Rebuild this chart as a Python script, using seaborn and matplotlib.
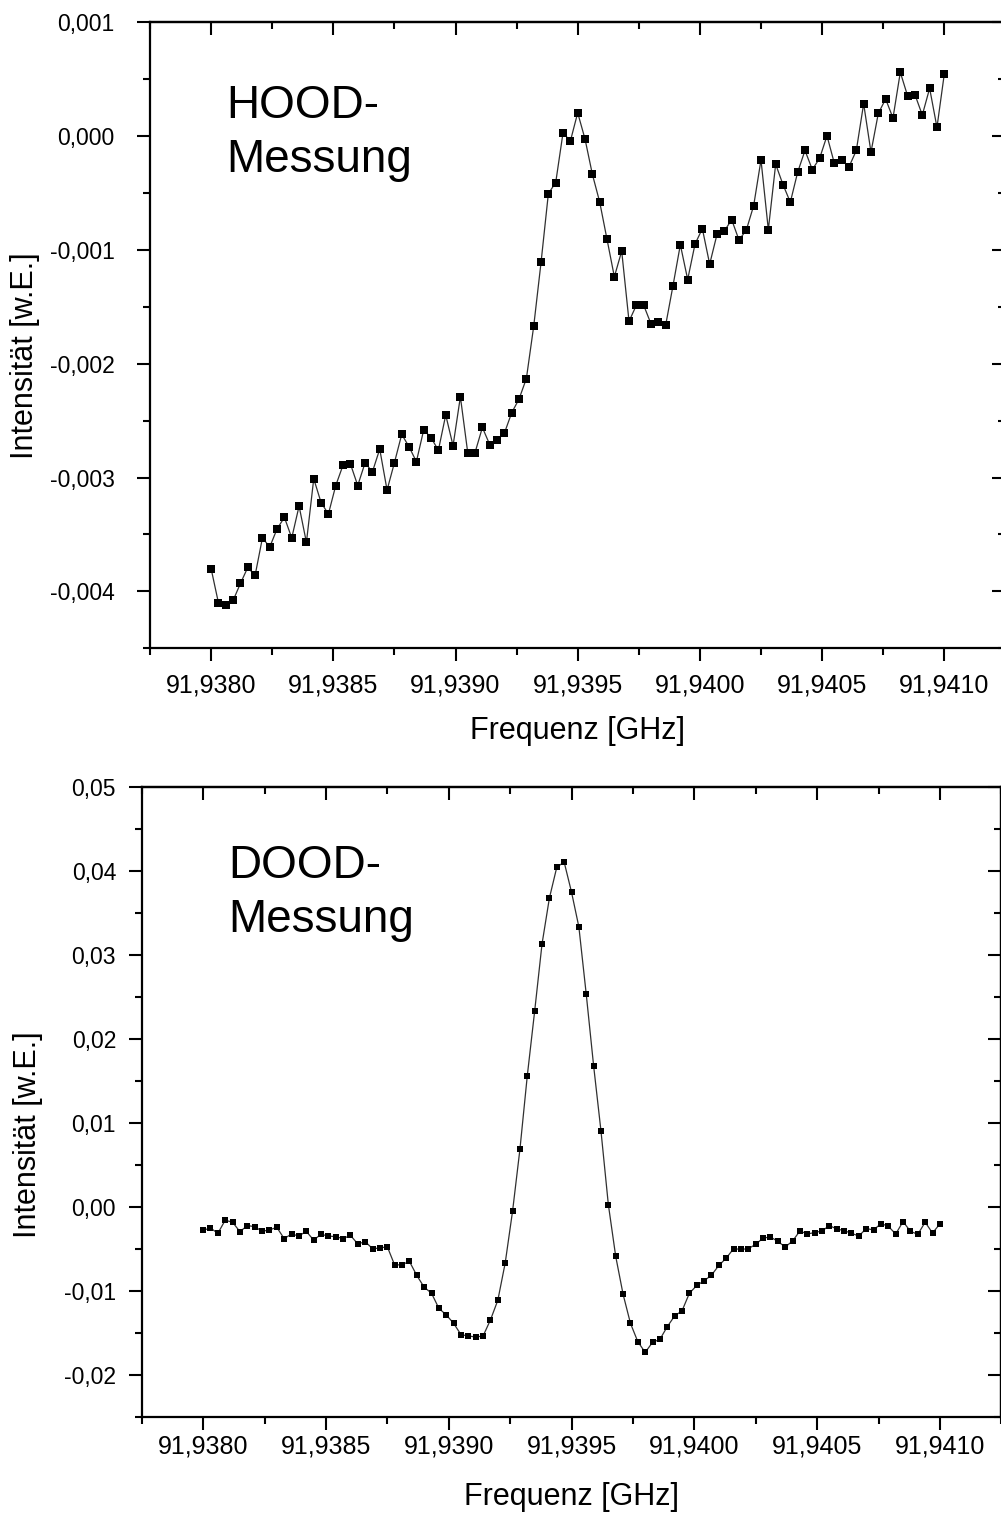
import numpy as np
import matplotlib
matplotlib.use("Agg")
import matplotlib.pyplot as plt
import seaborn as sns
from matplotlib.ticker import FixedLocator, FixedFormatter

# ---------------- data ----------------
freq = np.linspace(91.9380, 91.9410, 101)  # GHz, 30 kHz steps

hood = [
    -0.00380, -0.00410, -0.00412, -0.00408, -0.00393, -0.00379, -0.00386, -0.00353, -0.00361, -0.00345,
    -0.00335, -0.00353, -0.00325, -0.00357, -0.00301, -0.00322, -0.00332, -0.00307, -0.00289, -0.00288,
    -0.00307, -0.00287, -0.00295, -0.00275, -0.00311, -0.00287, -0.00262, -0.00273, -0.00286, -0.00258,
    -0.00265, -0.00276, -0.00245, -0.00272, -0.00229, -0.00278, -0.00278, -0.00256, -0.00271, -0.00267,
    -0.00261, -0.00243, -0.00231, -0.00213, -0.00167, -0.00111, -0.000505, -0.000408, 0.000030, -0.000044,
    0.000205, -0.000026, -0.000335, -0.000579, -0.000907, -0.001236, -0.00101, -0.001627, -0.001486, -0.001486,
    -0.00165, -0.001636, -0.00166, -0.001313, -0.000954, -0.00126, -0.000949, -0.000813, -0.001125, -0.000863,
    -0.000834, -0.000734, -0.000913, -0.000825, -0.000611, -0.000209, -0.000822, -0.000247, -0.000426, -0.000581,
    -0.000317, -0.000126, -0.000294, -0.000194, 0.000003, -0.000238, -0.000209, -0.000270, -0.000126, 0.000285,
    -0.000141, 0.000200, 0.000326, 0.000159, 0.000561, 0.000352, 0.000364, 0.000185, 0.000420, 0.000077,
    0.000546,
]

dood = [
    -0.00281, -0.00253, -0.00317, -0.00161, -0.00185, -0.00297, -0.00225, -0.00237, -0.00293, -0.00277,
    -0.00245, -0.00380, -0.00325, -0.00349, -0.00293, -0.00397, -0.00329, -0.00349, -0.00357, -0.00380,
    -0.00341, -0.00444, -0.00416, -0.00500, -0.00492, -0.00476, -0.00695, -0.00690, -0.00651, -0.00818,
    -0.00958, -0.01030, -0.01210, -0.01288, -0.01388, -0.01523, -0.01539, -0.01551, -0.01539, -0.01348,
    -0.01114, -0.00671, -0.00054, 0.00683, 0.01559, 0.02328, 0.03128, 0.03674, 0.04040, 0.04104,
    0.03746, 0.03331, 0.02530, 0.01679, 0.00902, 0.00026, -0.00591, -0.01042, -0.01388, -0.01607,
    -0.01734, -0.01615, -0.01579, -0.01428, -0.01300, -0.01240, -0.01030, -0.00938, -0.00882, -0.00815,
    -0.00699, -0.00612, -0.00500, -0.00508, -0.00500, -0.00448, -0.00373, -0.00361, -0.00412, -0.00480,
    -0.00409, -0.00289, -0.00325, -0.00308, -0.00289, -0.00225, -0.00265, -0.00285, -0.00317, -0.00349,
    -0.00260, -0.00277, -0.00201, -0.00233, -0.00325, -0.00177, -0.00293, -0.00329, -0.00185, -0.00313,
    -0.00205,
]

x_ticks = [91.9380, 91.9385, 91.9390, 91.9395, 91.9400, 91.9405, 91.9410]
x_ticklabels = ["91,9380", "91,9385", "91,9390", "91,9395", "91,9400", "91,9405", "91,9410"]
x_minor = [91.93775, 91.93825, 91.93875, 91.93925, 91.93975, 91.94025, 91.94075, 91.94125]

hood_yticks = [0.001, 0.000, -0.001, -0.002, -0.003, -0.004]
hood_yticklabels = ["0,001", "0,000", "-0,001", "-0,002", "-0,003", "-0,004"]
hood_yminor = [0.0005, -0.0005, -0.0015, -0.0025, -0.0035, -0.0045]

dood_yticks = [0.05, 0.04, 0.03, 0.02, 0.01, 0.00, -0.01, -0.02]
dood_yticklabels = ["0,05", "0,04", "0,03", "0,02", "0,01", "0,00", "-0,01", "-0,02"]
dood_yminor = [0.045, 0.035, 0.025, 0.015, 0.005, -0.005, -0.015, -0.025]

xlabel = "Frequenz [GHz]"
ylabel = "Intensität [w.E.]"

# ---------------- style ----------------
sns.set_theme(style="white")
plt.rcParams["font.family"] = ["Liberation Sans", "DejaVu Sans"]
plt.rcParams["text.color"] = "black"
plt.rcParams["axes.labelcolor"] = "black"
plt.rcParams["xtick.color"] = "black"
plt.rcParams["ytick.color"] = "black"
plt.rcParams["xtick.labelcolor"] = "black"
plt.rcParams["ytick.labelcolor"] = "black"

W, H = 1001, 1517
fig = plt.figure(figsize=(W / 100, H / 100), dpi=100)
fig.patch.set_facecolor("white")


def px_axes(left, top, right, bottom):
    return fig.add_axes([left / W, 1 - bottom / H, (right - left) / W, (bottom - top) / H])


def style_axes(ax, yticks, yticklabels, yminor, ylim, xpad, ypad):
    ax.set_facecolor("white")
    ax.set_xlim(91.93775, 91.94125)
    ax.set_ylim(*ylim)
    for s in ax.spines.values():
        s.set_visible(True)
        s.set_color("black")
        s.set_linewidth(1.6)
    ax.xaxis.set_major_locator(FixedLocator(x_ticks))
    ax.xaxis.set_major_formatter(FixedFormatter(x_ticklabels))
    ax.xaxis.set_minor_locator(FixedLocator(x_minor))
    ax.yaxis.set_major_locator(FixedLocator(yticks))
    ax.yaxis.set_major_formatter(FixedFormatter(yticklabels))
    ax.yaxis.set_minor_locator(FixedLocator(yminor))
    ax.tick_params(which="both", direction="out", color="black", width=1.5,
                   top=False, right=False, bottom=True, left=True,
                   labelcolor="black")
    ax.tick_params(which="major", length=9.5)
    ax.tick_params(which="minor", length=5)
    ax.tick_params(axis="x", which="major", labelsize=18, pad=xpad)
    ax.tick_params(axis="y", which="major", labelsize=16.5, pad=ypad)
    # inward ticks on top and right
    secx = ax.secondary_xaxis("top")
    secx.xaxis.set_major_locator(FixedLocator(x_ticks))
    secx.xaxis.set_minor_locator(FixedLocator(x_minor))
    secx.tick_params(which="both", direction="in", labeltop=False, width=1.5, color="black")
    secx.tick_params(which="major", length=9.5)
    secx.tick_params(which="minor", length=5)
    secx.spines["top"].set_linewidth(1.6)
    secx.spines["top"].set_color("black")
    secy = ax.secondary_yaxis("right")
    secy.yaxis.set_major_locator(FixedLocator(yticks))
    secy.yaxis.set_minor_locator(FixedLocator(yminor))
    secy.tick_params(which="both", direction="in", labelright=False, width=1.5, color="black")
    secy.tick_params(which="major", length=9.5)
    secy.tick_params(which="minor", length=5)
    secy.spines["right"].set_linewidth(1.6)
    secy.spines["right"].set_color("black")


# ---------------- top panel: HOOD ----------------
ax1 = px_axes(150, 22.3, 1005.4, 648.3)
sns.lineplot(x=freq, y=hood, ax=ax1, color="#303030", linewidth=0.9,
             marker="s", markersize=5.2, markerfacecolor="black",
             markeredgecolor="black", markeredgewidth=0, estimator=None, sort=False)
style_axes(ax1, hood_yticks, hood_yticklabels, hood_yminor, (-0.0045, 0.001), xpad=9, ypad=16)
ax1.set_xlabel(xlabel, fontsize=22, color="black")
ax1.set_ylabel(ylabel, fontsize=22, color="black")
ax1.xaxis.label.set_va("center")
ax1.yaxis.label.set_va("center")
ax1.xaxis.set_label_coords(0.5, (648.3 - 731) / 626)
ax1.yaxis.set_label_coords((25 - 150) / 855.4, (648.3 - 356) / 626)

fig.text(226.5 / W, 1 - 118 / H, "HOOD-", fontsize=33, ha="left", va="baseline", color="black")
fig.text(226.5 / W, 1 - 172 / H, "Messung", fontsize=33, ha="left", va="baseline", color="black")

# ---------------- bottom panel: DOOD ----------------
ax2 = px_axes(141.7, 786.7, 1001.3, 1416.7)
sns.lineplot(x=freq, y=dood, ax=ax2, color="#303030", linewidth=0.9,
             marker="s", markersize=4.2, markerfacecolor="black",
             markeredgecolor="black", markeredgewidth=0, estimator=None, sort=False)
style_axes(ax2, dood_yticks, dood_yticklabels, dood_yminor, (-0.025, 0.05), xpad=3, ypad=9)
ax2.set_xlabel(xlabel, fontsize=22, color="black")
ax2.set_ylabel(ylabel, fontsize=22, color="black")
ax2.xaxis.label.set_va("center")
ax2.yaxis.label.set_va("center")
ax2.xaxis.set_label_coords((572 - 141.7) / 859.6, (1416.7 - 1497) / 630)
ax2.yaxis.set_label_coords((28 - 141.7) / 859.6, (1416.7 - 1135) / 630)

fig.text(228 / W, 1 - 878.3 / H, "DOOD-", fontsize=33, ha="left", va="baseline", color="black")
fig.text(228 / W, 1 - 931.7 / H, "Messung", fontsize=33, ha="left", va="baseline", color="black")

fig.savefig("out.png", dpi=100)
